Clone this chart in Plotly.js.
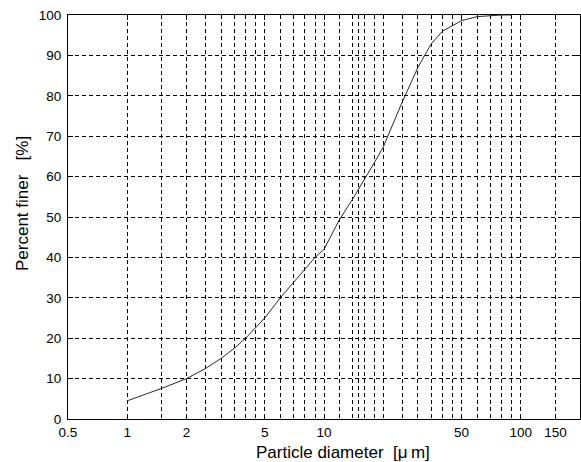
<!DOCTYPE html>
<html>
<head>
<meta charset="utf-8">
<script src="https://cdn.plot.ly/plotly-3.0.1.min.js"></script>
<style>
  html, body { margin: 0; padding: 0; background: #ffffff; }
  #chart { width: 581px; height: 462px; }
</style>
</head>
<body>
<div id="chart"></div>
<script>
// Particle size distribution
const diameter = [1, 1.5, 2, 2.5, 3, 3.5, 4, 4.5, 5, 6, 7, 8, 9, 10, 12, 14, 15, 16, 18, 20, 25, 30, 35, 40, 45, 50, 60, 70, 80, 90];
const percentFiner = [4.5, 7.6, 10, 12.5, 15, 17.5, 20, 22.5, 25, 30, 33.8, 37.1, 40, 42, 49.4, 54.5, 56.9, 59.2, 63.4, 67.3, 78.5, 87, 92.8, 96, 97.4, 98.6, 99.6, 99.9, 100, 100];

// Axis ticks and grid positions
const xTickVals = [0.5, 1, 2, 5, 10, 50, 100, 150];
const xTickText = ['0.5', '1', '2', '5', '10', '50', '100', '150'];
const xGridExtra = [1.5, 2.5, 3, 3.5, 4, 4.5, 6, 7, 8, 9, 12, 14, 15, 16, 18, 20, 25, 30, 35, 40, 45, 60, 70, 80, 90];
const yTickVals = [0, 10, 20, 30, 40, 50, 60, 70, 80, 90, 100];

const FONT = 'Liberation Sans, Arial, sans-serif';
const dash = '4px,3px';

const trace = {
  x: diameter,
  y: percentFiner,
  type: 'scatter',
  mode: 'lines',
  line: { color: '#2a2a2a', width: 1 },
  hoverinfo: 'x+y'
};

const L = 68, R = 1, T = 15, B = 43;
const plotW = 581 - L - R;
const plotH = 462 - T - B;

const layout = {
  width: 581,
  height: 462,
  margin: { l: L, r: R, t: T, b: B, pad: 0 },
  paper_bgcolor: '#ffffff',
  plot_bgcolor: '#ffffff',
  showlegend: false,
  font: { family: FONT, size: 13, color: '#000000' },
  xaxis: {
    type: 'log',
    range: [Math.log10(0.5), Math.log10(200)],
    tickmode: 'array',
    tickvals: xTickVals,
    ticktext: xTickText,
    ticks: 'inside',
    ticklen: 5,
    tickwidth: 1,
    tickcolor: '#000000',
    showline: true,
    linecolor: '#000000',
    linewidth: 1,
    mirror: 'ticks',
    showgrid: true,
    gridcolor: '#000000',
    gridwidth: 1,
    griddash: dash,
    zeroline: false,
    tickfont: { family: FONT, size: 13.5, color: '#000000' },
    ticklabelstandoff: 1,
    minor: {
      tickmode: 'array',
      tickvals: xGridExtra,
      ticks: '',
      showgrid: true,
      gridcolor: '#000000',
      gridwidth: 1,
      griddash: dash
    }
  },
  yaxis: {
    range: [0, 100],
    tickmode: 'array',
    tickvals: yTickVals,
    ticks: 'inside',
    ticklen: 5,
    tickwidth: 1,
    tickcolor: '#000000',
    showline: true,
    linecolor: '#000000',
    linewidth: 1,
    mirror: 'ticks',
    showgrid: true,
    gridcolor: '#000000',
    gridwidth: 1,
    griddash: dash,
    zeroline: false,
    tickfont: { family: FONT, size: 13.5, color: '#000000' },
    ticklabelstandoff: 3
  },
  annotations: [
    {
      text: 'Particle diameter  [\u03bc\u2009m]',
      xref: 'paper', yref: 'paper',
      x: (343 - L) / plotW, y: 0,
      xanchor: 'center', yanchor: 'middle',
      yshift: -(452 - (462 - B)),
      showarrow: false,
      font: { family: FONT, size: 17, color: '#000000' }
    },
    {
      text: 'Percent finer \u00a0 [%]',
      xref: 'paper', yref: 'paper',
      x: 0, y: 1 - (204 - T) / plotH,
      xanchor: 'center', yanchor: 'middle',
      xshift: -(L - 22),
      textangle: -90,
      showarrow: false,
      font: { family: FONT, size: 17, color: '#000000' }
    }
  ]
};

Plotly.newPlot('chart', [trace], layout, { displayModeBar: false, staticPlot: true });
</script>
</body>
</html>
